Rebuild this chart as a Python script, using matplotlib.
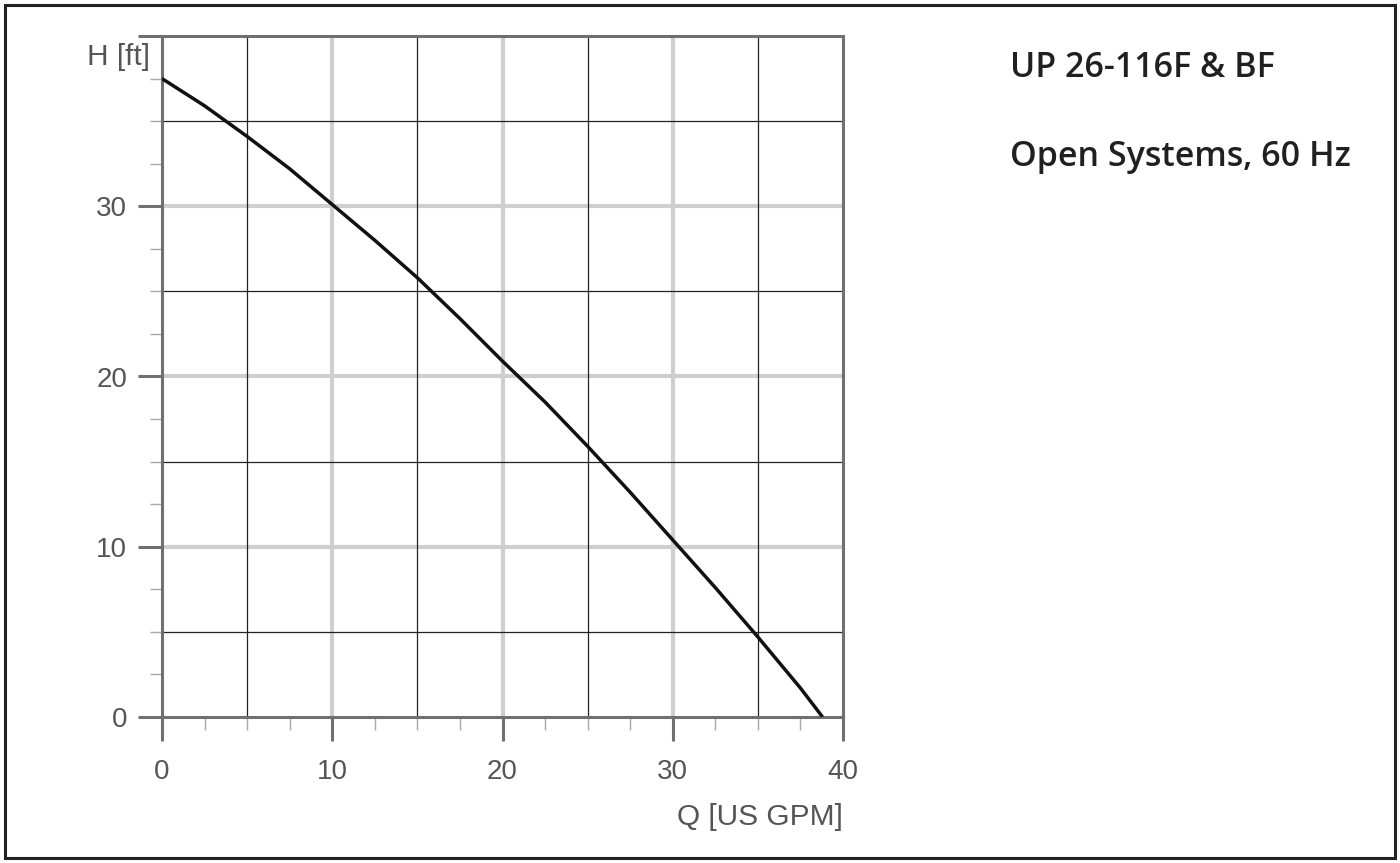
import numpy as np
import matplotlib
matplotlib.use("Agg")
import matplotlib.pyplot as plt
from matplotlib.patches import Rectangle
from matplotlib.ticker import MultipleLocator, FixedLocator

# pump curve
flow_gpm = [0, 2.5, 5, 7.5, 10, 12.5, 15, 17.5, 20, 22.5, 25, 27.5, 30, 32.5, 35, 37.5, 38.8]
head_ft = [37.5, 35.9, 34.1, 32.2, 30.1, 28.0, 25.8, 23.4, 20.9, 18.5, 15.9, 13.2, 10.4, 7.6, 4.7, 1.7, 0.0]

x_major = [0, 10, 20, 30, 40]
y_major = [0, 10, 20, 30, 40]
x_labels = ["0", "10", "20", "30", "40"]
y_labels = ["0", "10", "20", "30", ""]
grid_thin = [5, 15, 25, 35]

title_lines = ["UP 26-116F & BF", "Open Systems, 60 Hz"]

axis_grey = "#707070"
text_grey = "#555555"
sans = ["Liberation Sans", "DejaVu Sans"]

fig = plt.figure(figsize=(14, 8.63), dpi=100)
ax = fig.add_axes([162 / 1400, 1 - 717 / 863, (843 - 162) / 1400, (717 - 36) / 863])

ax.set_xlim(0, 40)
ax.set_ylim(0, 40)

# grid: thick light lines every 10, thin dark every 5
for v in [10, 20, 30]:
    ax.axvline(v, color="#cfcfcf", lw=3.0, zorder=1)
    ax.axhline(v, color="#cfcfcf", lw=3.0, zorder=1)
for v in grid_thin:
    ax.axvline(v, color="#222222", lw=0.9, zorder=2)
    ax.axhline(v, color="#222222", lw=0.9, zorder=2)

ax.plot(flow_gpm, head_ft, color="#111111", lw=2.5, zorder=4,
        solid_capstyle="butt", solid_joinstyle="round")

for s in ax.spines.values():
    s.set_color(axis_grey)
    s.set_linewidth(2.2)
    s.set_zorder(3)

ax.xaxis.set_major_locator(FixedLocator(x_major))
ax.yaxis.set_major_locator(FixedLocator(y_major))
ax.set_xticklabels(x_labels)
ax.set_yticklabels(y_labels)
ax.xaxis.set_minor_locator(MultipleLocator(2.5))
ax.yaxis.set_minor_locator(MultipleLocator(2.5))

ax.tick_params(which="major", direction="out", length=17, width=2.2,
               color=axis_grey, labelcolor=text_grey, labelsize=20)
ax.tick_params(which="minor", direction="out", length=9, width=1.0,
               color="#a8a8a8")
ax.tick_params(axis="x", which="major", pad=13)
ax.tick_params(axis="y", which="major", pad=8)
for lab in ax.get_xticklabels() + ax.get_yticklabels():
    lab.set_fontfamily(sans)

fig.text(150 / 1400, 1 - 57 / 863, "H [ft]", ha="right", va="center",
         fontsize=21.5, color=text_grey, family=sans)
fig.text(843 / 1400, 1 - 817 / 863, "Q [US GPM]", ha="right", va="center",
         fontsize=21.5, color=text_grey, family=sans)

fig.text(1010 / 1400, 1 - 68 / 863, title_lines[0], ha="left", va="center",
         fontsize=24.5, fontweight="semibold", color="#231f20",
         family=["Open Sans", "DejaVu Sans"])
fig.text(1010 / 1400, 1 - 157 / 863, title_lines[1], ha="left", va="center",
         fontsize=24.5, fontweight="semibold", color="#231f20",
         family=["Open Sans", "DejaVu Sans"])

# outer frame
fig.patches.append(Rectangle((5 / 1400, 5 / 863), 1390 / 1400, 853 / 863,
                             transform=fig.transFigure, fill=False,
                             edgecolor="#222222", lw=2.2))

fig.savefig("out.png", dpi=100)
